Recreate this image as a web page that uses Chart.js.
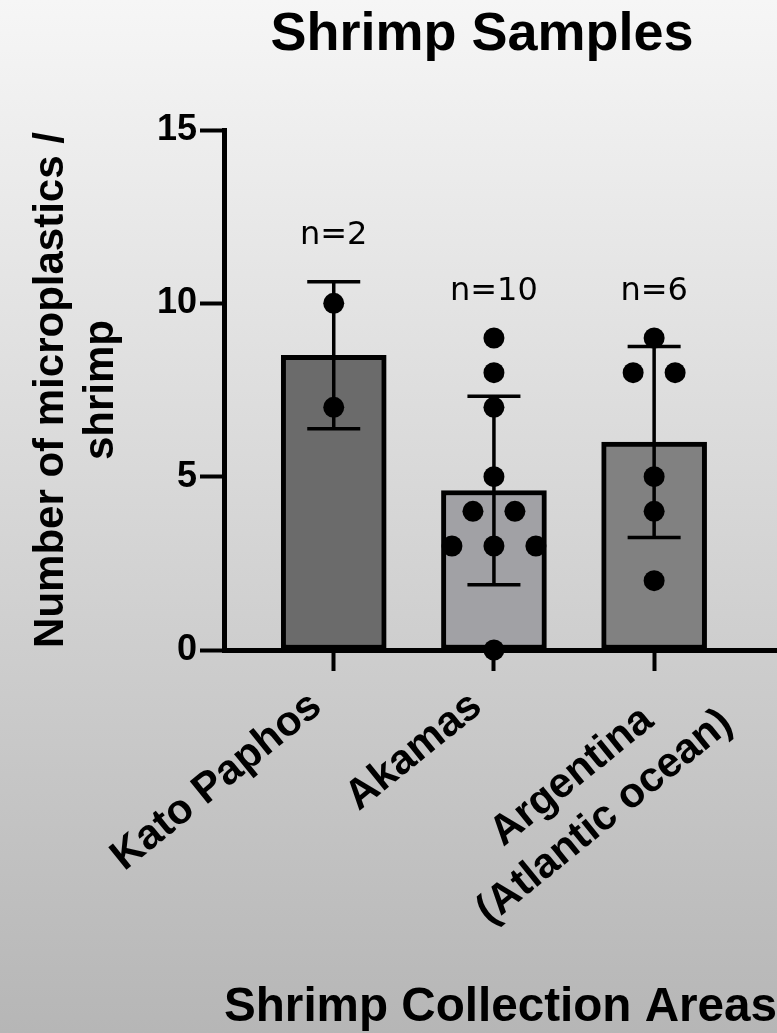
<!DOCTYPE html>
<html>
<head>
<meta charset="utf-8">
<script src="https://cdn.jsdelivr.net/npm/chart.js@4.4.1/dist/chart.umd.min.js"></script>
<style>
  html, body { margin: 0; padding: 0; }
  #wrap {
    position: relative;
    width: 777px;
    height: 1033px;
    background: linear-gradient(#f6f6f6, #b6b6b6);
  }
</style>
</head>
<body>
<div id="wrap"><canvas id="chart"></canvas></div>
<script>
// categories + raw counts per shrimp
const categories = ['Kato Paphos', 'Akamas', ['Argentina', '(Atlantic ocean)']];
const katoPaphos = [10, 7];
const akamas = [9, 8, 7, 5, 4, 4, 3, 3, 3, 0];
const argentina = [9, 8, 8, 5, 4, 2];
const sampleSizes = ['n=2', 'n=10', 'n=6'];
const yTicks = [0, 5, 10, 15];

const groups = [katoPaphos, akamas, argentina];
const barColors = ['#6b6b6b', '#a1a1a5', '#818181'];
const FONT = "'Liberation Sans', Arial, sans-serif";

// mean and sample SD of each group
function mean(arr) {
  return arr.reduce((a, b) => a + b, 0) / arr.length;
}
function sd(arr) {
  const m = mean(arr);
  return Math.sqrt(arr.reduce((a, b) => a + (b - m) * (b - m), 0) / (arr.length - 1));
}
const means = groups.map(mean);
const sds = groups.map(sd);

// spread dots that share a value side by side (like a scatter dot plot)
const SPREAD = 0.262;
const dots = [];
groups.forEach((vals, i) => {
  const seen = {};
  vals.forEach(v => { seen[v] = (seen[v] || 0) + 1; });
  const used = {};
  vals.forEach(v => {
    const k = used[v] || 0;
    used[v] = k + 1;
    dots.push({ x: i + (k - (seen[v] - 1) / 2) * SPREAD, y: v });
  });
});

// error bars, n= labels, title and rotated category labels
const extras = {
  id: 'extras',
  afterDatasetsDraw(chart) {
    const ctx = chart.ctx;
    const xs = chart.scales.x;
    const ys = chart.scales.y;
    ctx.save();
    ctx.strokeStyle = '#000';
    ctx.lineWidth = 3.5;
    groups.forEach((vals, i) => {
      const x = xs.getPixelForValue(i);
      const top = ys.getPixelForValue(means[i] + sds[i]);
      const bot = ys.getPixelForValue(means[i] - sds[i]);
      ctx.beginPath();
      ctx.moveTo(x, top);
      ctx.lineTo(x, bot);
      ctx.moveTo(x - 26.5, top);
      ctx.lineTo(x + 26.5, top);
      ctx.moveTo(x - 26.5, bot);
      ctx.lineTo(x + 26.5, bot);
      ctx.stroke();

      // sample size label above the highest mark
      const hi = Math.max(means[i] + sds[i], Math.max(...vals));
      ctx.fillStyle = '#000';
      ctx.font = "32px 'DejaVu Sans', sans-serif";
      ctx.textAlign = 'center';
      ctx.textBaseline = 'middle';
      ctx.fillText(sampleSizes[i], x, ys.getPixelForValue(hi) - 46);
    });
    ctx.restore();
  },
  afterDraw(chart) {
    const ctx = chart.ctx;
    const xs = chart.scales.x;
    ctx.save();
    ctx.fillStyle = '#000';
    ctx.font = 'bold 54px ' + FONT;
    ctx.textAlign = 'center';
    ctx.textBaseline = 'alphabetic';
    ctx.fillText('Shrimp Samples', 482, 50);

    // category labels, rotated, lines centred on the first one
    const ang = 39 * Math.PI / 180;
    ctx.font = 'bold 42px ' + FONT;
    categories.forEach((lab, i) => {
      const lines = Array.isArray(lab) ? lab : [lab];
      const w0 = ctx.measureText(lines[0]).width;
      const shift = (lines.length - 1) * 18;
      ctx.save();
      ctx.translate(xs.getPixelForValue(i) - 10 + shift * Math.sin(ang),
                    xs.top + 60 + shift * Math.cos(ang));
      ctx.rotate(-ang);
      ctx.textAlign = 'center';
      lines.forEach((ln, k) => ctx.fillText(ln, -w0 / 2, k * 52));
      ctx.restore();
    });
    ctx.restore();
  }
};

new Chart(document.getElementById('chart'), {
  type: 'bar',
  data: {
    datasets: [{
      type: 'scatter',
      data: dots,
      backgroundColor: '#000',
      borderWidth: 0,
      pointRadius: 10.5,
      pointHoverRadius: 10.5,
      clip: false,
      order: 0
    }, {
      type: 'bar',
      data: means.map((m, i) => ({ x: i, y: m })),
      backgroundColor: barColors,
      borderColor: '#000',
      borderWidth: 5,
      borderSkipped: false,
      barThickness: 105,
      order: 1
    }]
  },
  options: {
    responsive: true,
    maintainAspectRatio: false,
    animation: false,
    layout: { autoPadding: false, padding: { top: 130, right: 0, bottom: 0, left: 0 } },
    plugins: {
      legend: { display: false },
      tooltip: { enabled: false },
      title: { display: false }
    },
    scales: {
      x: {
        type: 'linear',
        position: 'bottom',
        offset: false,
        min: -0.685,
        max: 2.767,
        afterBuildTicks: s => { s.ticks = categories.map((_, i) => ({ value: i })); },
        afterFit: s => { s.height = 383; },
        ticks: { display: false },
        grid: {
          offset: false,
          drawOnChartArea: false,
          drawTicks: true,
          tickLength: 21,
          tickWidth: 4,
          tickColor: '#000'
        },
        border: { display: true, color: '#000', width: 5 },
        title: {
          display: true,
          text: 'Shrimp Collection Areas',
          color: '#000',
          font: { family: FONT, size: 48, weight: 'bold' },
          padding: { top: 0, bottom: -4 }
        }
      },
      y: {
        min: 0,
        max: 15,
        afterBuildTicks: s => { s.ticks = yTicks.map(v => ({ value: v })); },
        afterFit: s => { s.width = 224; },
        ticks: {
          color: '#000',
          padding: 3,
          font: { family: FONT, size: 36, weight: 'bold' }
        },
        grid: {
          drawOnChartArea: false,
          drawTicks: true,
          tickLength: 24,
          tickWidth: 4,
          tickColor: '#000'
        },
        border: { display: true, color: '#000', width: 5 },
        title: {
          display: true,
          text: ['Number of microplastics /', 'shrimp'],
          color: '#000',
          font: { family: FONT, size: 42, weight: 'bold', lineHeight: 1.2 },
          padding: { top: 26, bottom: 0 }
        }
      }
    }
  },
  plugins: [extras]
});
</script>
</body>
</html>
